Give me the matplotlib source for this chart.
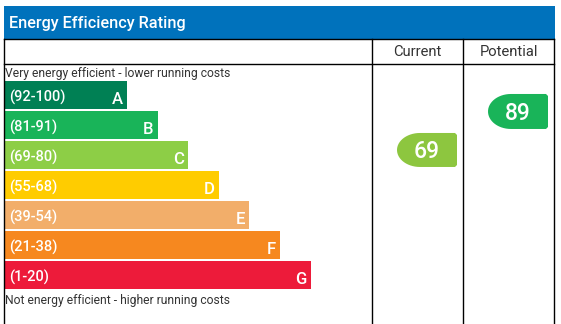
import matplotlib
matplotlib.use("Agg")
import matplotlib.pyplot as plt
from matplotlib.patches import Rectangle, PathPatch
from matplotlib.path import Path
import numpy as np

# ---- data ----
bands = ["A", "B", "C", "D", "E", "F", "G"]
ranges = ["(92-100)", "(81-91)", "(69-80)", "(55-68)", "(39-54)", "(21-38)", "(1-20)"]
colors = ["#008054", "#19b459", "#8dce46", "#ffcc00", "#f2ae6a", "#f6881f", "#ed1b3a"]
current_value = 69
potential_value = 89
current_color = "#8dc63f"
potential_color = "#19b459"
title = "Energy Efficiency Rating"
col_headers = ["Current", "Potential"]
top_note = "Very energy efficient - lower running costs"
bottom_note = "Not energy efficient - higher running costs"

plt.rcParams['font.family'] = ['Roboto', 'DejaVu Sans']

W, H = 561, 324
fig = plt.figure(figsize=(W / 100, H / 100), dpi=100)
ax = fig.add_axes([0, 0, 1, 1])
ax.set_xlim(0, W)
ax.set_ylim(H, 0)
ax.axis('off')

# layout
L, R = 4.5, 554.5
c1, c2 = 372, 463
head_top, head_bot, row_bot = 6, 38.5, 63.5
bar_top0, bar_step, bar_h = 81, 30, 28
bar_left = 5
bar_w0, bar_dw = 122, 30.6

# header
ax.add_patch(Rectangle((L, head_top), R - L + 0.5, head_bot - head_top, color="#0072bc", lw=0))
ax.text(9, (head_top + head_bot) / 2 + 1, title, color="white", fontsize=11.7,
        fontweight="medium", va="center", ha="left")

# grid lines
lk = dict(color="black", lw=1.0)
ax.plot([L, R], [head_bot, head_bot], **lk)
ax.plot([L, R], [row_bot, row_bot], **lk)
for x in (L, c1, c2, R):
    ax.plot([x, x], [head_bot, H], **lk)

ax.text((c1 + c2) / 2, (head_bot + row_bot) / 2 + 1, col_headers[0], ha="center", va="center",
        fontsize=10.6, color="#333333")
ax.text((c2 + R) / 2, (head_bot + row_bot) / 2 + 1, col_headers[1], ha="center", va="center",
        fontsize=10.6, color="#333333")

ax.text(5, 73.5, top_note, fontsize=8.7, va="center", ha="left", color="#333333")

# bars
n = len(bands)
ys = np.array([bar_top0 + i * bar_step + bar_h / 2 for i in range(n)])
widths = np.array([bar_w0 + i * bar_dw for i in range(n)])
ax.barh(ys, widths, left=bar_left, height=bar_h, color=colors, lw=0)
for y, w, rg, b in zip(ys, widths, ranges, bands):
    ax.text(bar_left + 4.5, y + 2.5, rg, color="white", fontsize=10.5, fontweight="medium",
            va="center", ha="left")
    ax.text(bar_left + w - 4, y + 5, b, color="white", fontsize=12, fontweight="medium",
            va="center", ha="right")

ax.text(5, 300.5, bottom_note, fontsize=8.7, va="center", ha="left", color="#333333")


def score_to_y(s):
    return 282.8 - 1.925 * s


def arrow(xl, xr, yc, h, color, label):
    rx = 23
    t = np.linspace(np.pi / 2, 3 * np.pi / 2, 30)
    xs = xl + rx + rx * np.cos(t)
    yv = yc - (h / 2) * np.sin(t)
    pts = [(xl + rx, yc - h / 2), (xr - 2, yc - h / 2), (xr, yc - h / 2 + 2),
           (xr, yc + h / 2 - 2), (xr - 2, yc + h / 2), (xl + rx, yc + h / 2)]
    ell = list(zip(xs, yv))
    verts = pts + ell[::-1] + [pts[0]]
    codes = [Path.MOVETO] + [Path.LINETO] * (len(verts) - 2) + [Path.CLOSEPOLY]
    ax.add_patch(PathPatch(Path(verts, codes), facecolor=color, edgecolor="none"))
    ax.text((xl + xr) / 2, yc + 2, label, color="white", fontsize=16.5,
            ha="center", va="center", fontweight="medium")


arrow(397, 457, score_to_y(current_value), 34, current_color, str(current_value))
arrow(488, 548, score_to_y(potential_value), 35, potential_color, str(potential_value))

fig.savefig("out.png", dpi=100)
